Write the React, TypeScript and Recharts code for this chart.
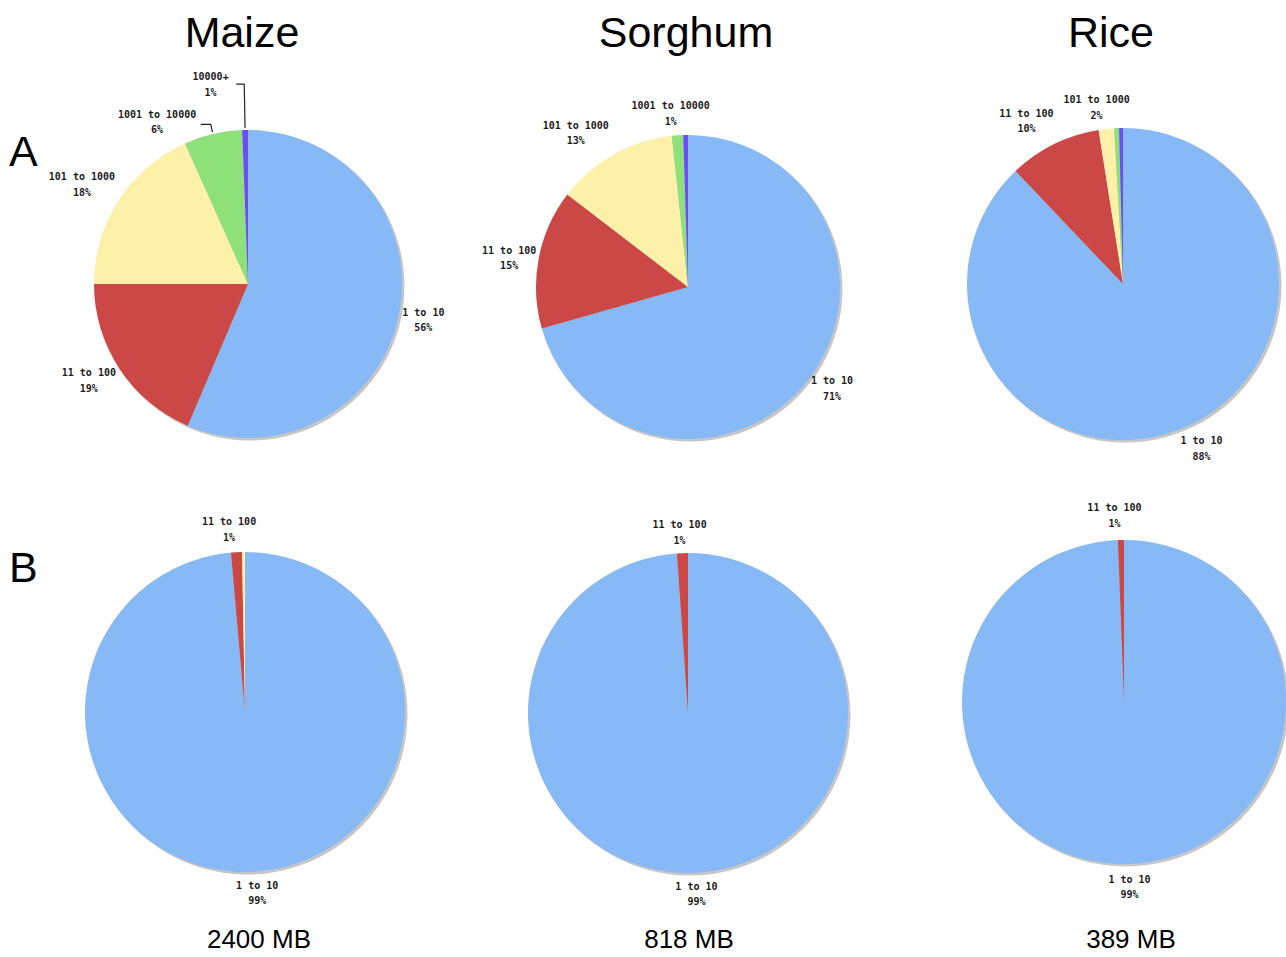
import React from 'react';
import { PieChart, Pie, Cell } from 'recharts';

const categories = ['1 to 10', '11 to 100', '101 to 1000', '1001 to 10000', '10000+'];
const sliceColors = ['#86b9f6', '#cb4846', '#fdf0a8', '#8ee07a', '#6b4ef7'];

const maizeA = [56.4, 18.6, 18.3, 6.1, 0.6];
const sorghumA = [70.6, 14.8, 12.9, 1.2, 0.5];
const riceA = [87.9, 9.6, 1.6, 0.5, 0.4];
const maizeB = [98.6, 1.1, 0.3];
const sorghumB = [98.9, 1.1];
const riceB = [99.4, 0.6];
const shadowValues = [100];

const speciesTitles = ['Maize', 'Sorghum', 'Rice'];
const rowLabels = ['A', 'B'];
const genomeSizes = ['2400 MB', '818 MB', '389 MB'];

type LabelStyle = { dx: number; dy: number; leader?: { elbowR: number; endDx: number } };

type PieSpec = {
  values: number[];
  cx: number;
  cy: number;
  r: number;
  labels: Record<number, LabelStyle>;
};

const pies: PieSpec[] = [
  {
    values: maizeA, cx: 248, cy: 284, r: 154,
    labels: {
      0: { dx: -1, dy: 0 },
      1: { dx: -9, dy: -3 },
      2: { dx: -15, dy: -2 },
      3: { dx: -50, dy: 13, leader: { elbowR: 164, endDx: -10 } },
      4: { dx: -34, dy: -20, leader: { elbowR: 200, endDx: -8 } },
    },
  },
  {
    values: sorghumA, cx: 688, cy: 287, r: 152,
    labels: {
      0: { dx: 2, dy: -6 },
      1: { dx: -4, dy: 4 },
      2: { dx: -25, dy: 1 },
      3: { dx: -5, dy: 4 },
    },
  },
  {
    values: riceA, cx: 1123, cy: 284, r: 156,
    labels: {
      0: { dx: 11, dy: -5 },
      1: { dx: -16, dy: 0 },
      2: { dx: -7, dy: 4 },
    },
  },
  {
    values: maizeB, cx: 245, cy: 712, r: 160,
    labels: { 0: { dx: 4, dy: -5 }, 1: { dx: -6, dy: 3 } },
  },
  {
    values: sorghumB, cx: 688, cy: 713, r: 160,
    labels: { 0: { dx: 2, dy: -5 }, 1: { dx: -2, dy: 5 } },
  },
  {
    values: riceB, cx: 1124, cy: 702, r: 162,
    labels: { 0: { dx: 2, dy: -3 }, 1: { dx: -6, dy: 1 } },
  },
];

const RAD = Math.PI / 180;
const polar = (cx: number, cy: number, r: number, angle: number) => ({
  x: cx + Math.cos(-RAD * angle) * r,
  y: cy + Math.sin(-RAD * angle) * r,
});

const makeLabel = (spec: PieSpec) => (props: any) => {
  const { cx, cy, midAngle, outerRadius, index, percent } = props;
  const cfg = spec.labels[index];
  if (!cfg) return null;
  const base = polar(cx, cy, outerRadius + 26, midAngle);
  const x = base.x + cfg.dx;
  const y = base.y + cfg.dy;
  let leader = null;
  if (cfg.leader) {
    const p1 = polar(cx, cy, outerRadius + 2, midAngle);
    const p2 = polar(cx, cy, cfg.leader.elbowR, midAngle);
    const p3 = { x: p2.x + cfg.leader.endDx, y: p2.y };
    leader = (
      <polyline
        points={`${p1.x},${p1.y} ${p2.x},${p2.y} ${p3.x},${p3.y}`}
        fill="none"
        stroke="#222"
        strokeWidth={1.2}
      />
    );
  }
  const pct = Math.round(percent * 100);
  return (
    <g key={`lbl-${index}`}>
      {leader}
      <text
        x={x}
        y={y}
        textAnchor="middle"
        fontFamily="'DejaVu Sans Mono', monospace"
        fontWeight="bold"
        fontSize={10}
        fill="#1c1c1c"
      >
        <tspan x={x} y={y - 7.5} dominantBaseline="central">{categories[index]}</tspan>
        <tspan x={x} y={y + 8} dominantBaseline="central">{`${pct}%`}</tspan>
      </text>
    </g>
  );
};

const shadowData = shadowValues.map((v) => ({ name: 'shadow', value: v }));

export default function App() {
  const font = "'Liberation Sans', Arial, Helvetica, sans-serif";
  const titleX = [242, 686, 1111];
  const sizeX = [259, 689, 1131];
  return (
    <div style={{ position: 'absolute', left: 0, top: 0, width: 1286, height: 957, background: '#fff', overflow: 'hidden' }}>
      <PieChart width={1286} height={957} margin={{ top: 0, right: 0, bottom: 0, left: 0 }}>
        {pies.map((p, i) => (
          <Pie
            key={`shadow-${i}`}
            data={shadowData}
            dataKey="value"
            nameKey="name"
            cx={p.cx + 2}
            cy={p.cy + 2}
            outerRadius={p.r + 0.5}
            startAngle={90}
            endAngle={-270}
            stroke="none"
            fill="#c6c6c6"
            isAnimationActive={false}
            label={false}
            labelLine={false}
          />
        ))}
        {pies.map((p, i) => (
          <Pie
            key={`pie-${i}`}
            data={p.values.map((v, k) => ({ name: categories[k], value: v }))}
            dataKey="value"
            nameKey="name"
            cx={p.cx}
            cy={p.cy}
            outerRadius={p.r}
            startAngle={90}
            endAngle={-270}
            stroke="none"
            isAnimationActive={false}
            labelLine={false}
            label={makeLabel(p)}
          >
            {p.values.map((_, k) => (
              <Cell key={k} fill={sliceColors[k]} />
            ))}
          </Pie>
        ))}
      </PieChart>
      {speciesTitles.map((t, i) => (
        <div
          key={t}
          style={{
            position: 'absolute', left: titleX[i] - 150, width: 300, top: 6, textAlign: 'center',
            fontFamily: font, fontSize: 43, lineHeight: '52px', color: '#000',
          }}
        >
          {t}
        </div>
      ))}
      {rowLabels.map((t, i) => (
        <div
          key={t}
          style={{
            position: 'absolute', left: 9, top: i === 0 ? 125 : 541, fontFamily: font, fontSize: 43,
            lineHeight: '52px', color: '#000',
          }}
        >
          {t}
        </div>
      ))}
      {genomeSizes.map((t, i) => (
        <div
          key={t}
          style={{
            position: 'absolute', left: sizeX[i] - 100, width: 200, top: 929, textAlign: 'center',
            fontFamily: font, fontSize: 26, lineHeight: '20px', height: 20, color: '#000',
            whiteSpace: 'nowrap',
          }}
        >
          {t}
        </div>
      ))}
    </div>
  );
}
